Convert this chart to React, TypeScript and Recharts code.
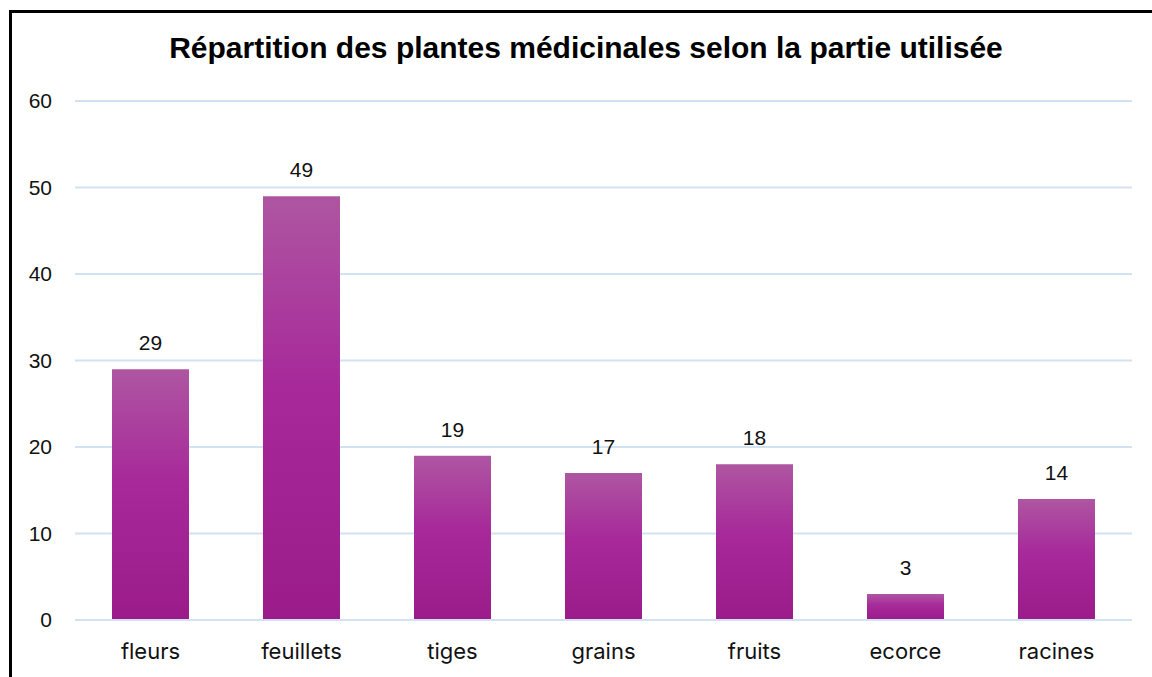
import React from 'react'
import { BarChart, Bar, XAxis, YAxis, CartesianGrid, LabelList } from 'recharts'

const categories = ['fleurs', 'feuillets', 'tiges', 'grains', 'fruits', 'ecorce', 'racines']
const counts = [29, 49, 19, 17, 18, 3, 14]
const yTicks = [0, 10, 20, 30, 40, 50, 60]

const data = categories.map((name, i) => ({ name, value: counts[i] }))

export default function App() {
  return (
    <div style={{ position: 'fixed', left: 0, top: 0, width: 1152, height: 677, background: '#fff', overflow: 'hidden' }}>
      <div
        style={{
          position: 'absolute',
          left: 9,
          top: 10,
          width: 1200,
          height: 720,
          borderLeft: '3px solid #000',
          borderTop: '3px solid #000',
        }}
      />
      <div
        style={{
          position: 'absolute',
          left: 0,
          top: 31,
          width: 1172,
          textAlign: 'center',
          fontFamily: '"Liberation Sans", Arial, sans-serif',
          fontWeight: 'bold',
          fontSize: 30,
          color: '#000',
        }}
      >
        Répartition des plantes médicinales selon la partie utilisée
      </div>
      <div style={{ position: 'absolute', left: 0, top: 0 }}>
        <BarChart
          width={1152}
          height={677}
          data={data}
          margin={{ top: 101, right: 20, left: 0, bottom: 0 }}
          barCategoryGap="24.5%"
        >
          <defs>
            <linearGradient id="barFill" x1="0" y1="0" x2="0" y2="1">
              <stop offset="0%" stopColor="#ae56a1" />
              <stop offset="45%" stopColor="#a7299a" />
              <stop offset="100%" stopColor="#9b1b8a" />
            </linearGradient>
          </defs>
          <CartesianGrid vertical={false} stroke="#d3e2f2" strokeWidth={2} />
          <XAxis
            dataKey="name"
            height={57}
            axisLine={{ stroke: '#d3e2f2', strokeWidth: 2 }}
            tickLine={false}
            tickMargin={17}
            tick={{ fill: '#111', fontSize: 22, fontFamily: 'Inter, "Open Sans", sans-serif' }}
          />
          <YAxis
            width={75}
            domain={[0, 60]}
            ticks={yTicks}
            axisLine={false}
            tickLine={false}
            tickMargin={17}
            tick={{ fill: '#111', fontSize: 21, fontFamily: '"Liberation Sans", Arial, sans-serif' }}
          />
          <Bar dataKey="value" fill="url(#barFill)" isAnimationActive={false}>
            <LabelList
              dataKey="value"
              position="top"
              offset={19}
              style={{ fill: '#111', fontSize: 21, fontFamily: '"Liberation Sans", Arial, sans-serif' }}
            />
          </Bar>
        </BarChart>
      </div>
    </div>
  )
}
